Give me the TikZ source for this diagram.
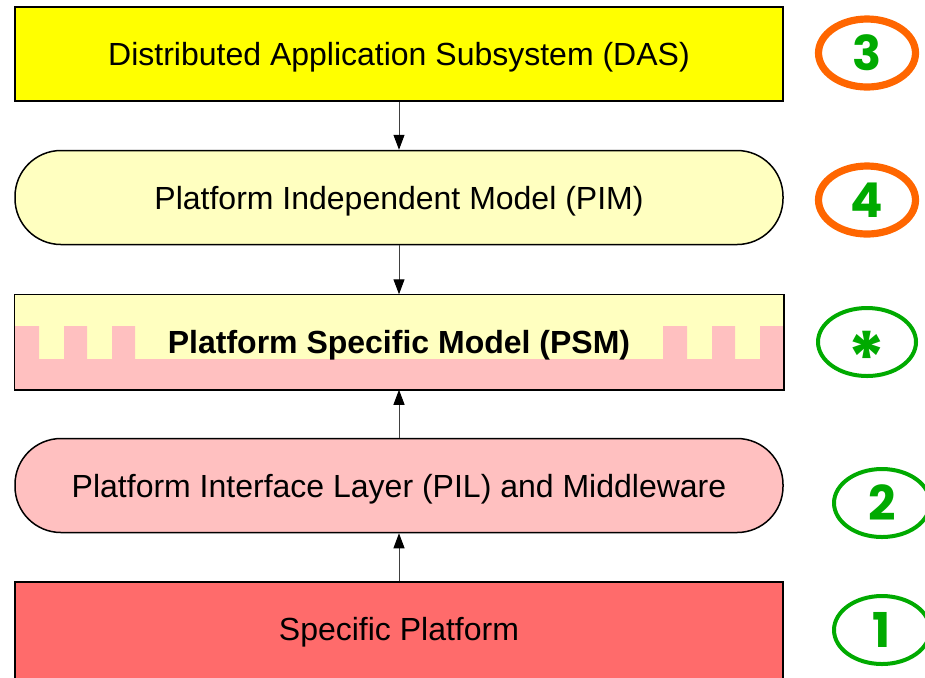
\documentclass[tikz,border=0pt]{standalone}
\usepackage{fontspec}
\setmainfont{Liberation Sans}
\newfontfamily\badgefont{Poppins}
\usetikzlibrary{arrows.meta,shapes.geometric}

\definecolor{dasyellow}{HTML}{FFFF00}
\definecolor{paleyellow}{HTML}{FFFFC0}
\definecolor{palepink}{HTML}{FFC0C0}
\definecolor{platred}{HTML}{FF6B6B}
\definecolor{badgeorange}{HTML}{FF6600}
\definecolor{badgegreen}{HTML}{00AA00}

\tikzset{
  label text/.style={font=\fontsize{16}{19}\selectfont,
    text height=11.5pt, text depth=0pt},
  layer/.style={draw=black, line width=0.75pt, minimum width=384pt,
    minimum height=47pt, inner sep=0pt, label text},
  roundlayer/.style={layer, rounded corners=23pt},
  link/.style={draw=black!75, line width=0.5pt,
    -{Triangle[length=7.5pt,width=5.5pt,color=black]}},
  badge/.style={ellipse, text=badgegreen, inner sep=0pt,
    font=\badgefont\bfseries\fontsize{24}{26}\selectfont},
  hotbadge/.style={draw=badgeorange, line width=3.6pt},
  coolbadge/.style={draw=badgegreen, line width=2pt},
}

\begin{document}
\begin{tikzpicture}[x=0.5pt, y=-0.5pt]
  \useasboundingbox (0,0) rectangle (925,677);
  \clip (0,0) rectangle (925,677);

  % layer stack
  \node[layer, fill=dasyellow] (das) at (399,54)
    {Distributed Application Subsystem (DAS)};
  \node[roundlayer, fill=paleyellow] (pim) at (399,197.5)
    {Platform Independent Model (PIM)};

  % PSM: pale yellow band over a toothed pink base
  \node[layer, draw=none, fill=paleyellow] (psm) at (399,342) {};
  \fill[palepink]
    (15,389) -- (15,326) -- (39,326) -- (39,359) -- (64,359) -- (64,326)
    -- (87,326) -- (87,359) -- (112,359) -- (112,326) -- (135,326)
    -- (135,359) -- (663,359) -- (663,326) -- (687,326) -- (687,359)
    -- (712,359) -- (712,326) -- (735,326) -- (735,359) -- (760,359)
    -- (760,326) -- (783,326) -- (783,389) -- cycle;
  \draw[line width=0.75pt] (psm.south west) rectangle (psm.north east);
  \node[label text, font=\fontsize{16}{19}\selectfont\bfseries] (psmlabel)
    at (399,342) {Platform Specific Model (PSM)};

  \node[roundlayer, fill=palepink] (pil) at (399,485.5)
    {Platform Interface Layer (PIL) and Middleware};
  \node[layer, fill=platred, minimum height=49pt] (sp) at (399,631) {};
  \node[label text] (splabel) at (399,629) {Specific Platform};

  % dependencies between layers
  \draw[link] (das.south) -- (pim.north);
  \draw[link] (pim.south) -- (psm.north);
  \draw[link] (pil.north) -- (psm.south);
  \draw[link] (sp.north) -- (pil.south);

  % numbered badges
  \node[badge, hotbadge, minimum width=48.5pt, minimum height=34pt] (b3) at (867,53) {3};
  \node[badge, hotbadge, minimum width=48.5pt, minimum height=34pt] (b4) at (867,200) {4};
  \node[badge, coolbadge, minimum width=49pt, minimum height=34pt] (bs) at (867,342) {};
  \node[text=badgegreen, font=\badgefont\bfseries\fontsize{36}{36}\selectfont]
    (bstar) at (867,358) {*};
  \node[badge, coolbadge, minimum width=48pt, minimum height=34pt] (b2) at (882,503) {2};
  \node[badge, coolbadge, minimum width=48pt, minimum height=34pt] (b1) at (882,630) {1};
\end{tikzpicture}
\end{document}
